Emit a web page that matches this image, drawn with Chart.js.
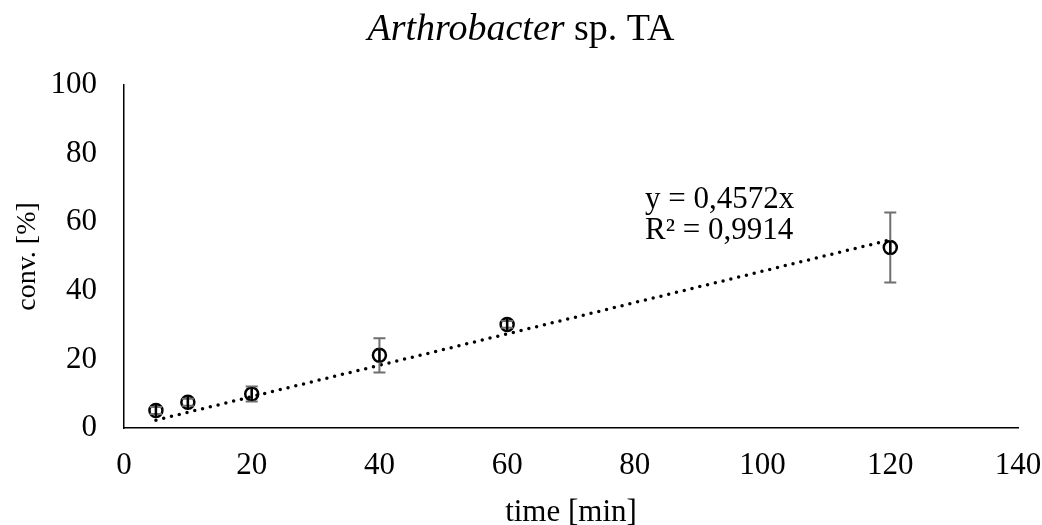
<!DOCTYPE html>
<html>
<head>
<meta charset="utf-8">
<script src="https://cdn.jsdelivr.net/npm/chart.js@4.4.1/dist/chart.umd.min.js"></script>
<style>
  html, body { margin: 0; padding: 0; background: #fff; }
  #wrap { width: 1042px; height: 525px; }
</style>
</head>
<body>
<div id="wrap"><canvas id="chart1"></canvas></div>
<script>
var timeMin = [5, 10, 20, 40, 60, 120];
var conv = [5.1, 7.5, 9.9, 21.2, 30.2, 52.6];
var convErr = [1.0, 1.0, 2.2, 5.0, 1.0, 10.2];
var trendX = [5, 120];
var trendY = [2.29, 54.86];
var xTicks = [0, 20, 40, 60, 80, 100, 120, 140];
var yTicks = [0, 20, 40, 60, 80, 100];

var serif = "'Liberation Serif', 'Times New Roman', serif";

// title with italic genus name + trendline equation
var titlePlugin = {
  id: 'mixedTitle',
  afterDraw: function (chart) {
    var ctx = chart.ctx;
    ctx.save();
    ctx.fillStyle = '#000';
    ctx.textBaseline = 'alphabetic';
    ctx.textAlign = 'left';
    var a = 'Arthrobacter', b = ' sp. TA';
    ctx.font = 'italic 38px ' + serif;
    var wa = ctx.measureText(a).width;
    ctx.font = '38px ' + serif;
    var wb = ctx.measureText(b).width;
    var x0 = chart.width / 2 - (wa + wb) / 2;
    ctx.font = 'italic 38px ' + serif;
    ctx.fillText(a, x0, 40);
    ctx.font = '38px ' + serif;
    ctx.fillText(b, x0 + wa, 40);

    ctx.font = '31px ' + serif;
    ctx.fillText('y = 0,4572x', 645, 208);
    ctx.fillText('R\u00b2 = 0,9914', 645, 239);
    ctx.restore();
  }
};

var errorBars = {
  id: 'errorBars',
  afterDatasetsDraw: function (chart) {
    var ctx = chart.ctx;
    var xs = chart.scales.x, ys = chart.scales.y;
    ctx.save();
    ctx.lineWidth = 2;
    for (var i = 0; i < timeMin.length; i++) {
      var px = xs.getPixelForValue(timeMin[i]);
      var top = ys.getPixelForValue(conv[i] + convErr[i]);
      var bot = ys.getPixelForValue(conv[i] - convErr[i]);
      var mid = ys.getPixelForValue(conv[i]);
      ctx.strokeStyle = '#6f6f6f';
      ctx.beginPath();
      ctx.moveTo(px, top); ctx.lineTo(px, bot);
      ctx.moveTo(px - 6, top); ctx.lineTo(px + 6, top);
      ctx.moveTo(px - 6, bot); ctx.lineTo(px + 6, bot);
      ctx.stroke();
      ctx.strokeStyle = '#000';
      ctx.lineWidth = 2.5;
      ctx.beginPath();
      ctx.moveTo(px, mid - 7); ctx.lineTo(px, mid + 7);
      ctx.stroke();
      ctx.lineWidth = 2;
    }
    ctx.restore();
  }
};

new Chart(document.getElementById('chart1'), {
  type: 'scatter',
  data: {
    datasets: [
      {
        label: 'conv',
        data: timeMin.map(function (t, i) { return { x: t, y: conv[i] }; }),
        pointStyle: 'circle',
        pointRadius: 6.5,
        pointBorderWidth: 2.5,
        pointBorderColor: '#000',
        pointBackgroundColor: 'rgba(0,0,0,0)',
        showLine: false
      },
      {
        label: 'trend',
        data: trendX.map(function (t, i) { return { x: t, y: trendY[i] }; }),
        showLine: true,
        borderColor: '#000',
        borderWidth: 3.5,
        borderDash: [0, 8],
        borderCapStyle: 'round',
        pointRadius: 0,
        order: 1
      }
    ]
  },
  options: {
    responsive: true,
    maintainAspectRatio: false,
    animation: false,
    devicePixelRatio: 1,
    layout: { padding: { top: 85, right: 24, left: 0, bottom: 0 } },
    plugins: {
      legend: { display: false },
      tooltip: { enabled: false },
      title: { display: false }
    },
    scales: {
      x: {
        type: 'linear',
        min: 0,
        max: 140,
        afterBuildTicks: function (s) { s.ticks = xTicks.map(function (v) { return { value: v }; }); },
        afterFit: function (s) { s.height = 97; s.paddingLeft = 0; s.paddingRight = 0; },
        grid: { display: false, drawTicks: false },
        border: { display: true, color: '#000', width: 1.5 },
        ticks: { color: '#000', padding: 19, font: { family: serif, size: 31 }, maxRotation: 0 },
        title: { display: true, text: 'time [min]', color: '#000', font: { family: serif, size: 31 }, padding: { top: 0, bottom: -6 } }
      },
      y: {
        type: 'linear',
        min: 0,
        max: 100,
        afterBuildTicks: function (s) { s.ticks = yTicks.map(function (v) { return { value: v }; }); },
        afterFit: function (s) { s.width = 124; s.paddingTop = 0; s.paddingBottom = 0; },
        grid: { display: false, drawTicks: false },
        border: { display: true, color: '#000', width: 1.5 },
        ticks: { color: '#000', padding: 27, font: { family: serif, size: 31 } },
        title: { display: true, text: 'conv. [%]', color: '#000', font: { family: serif, size: 28 }, padding: { top: 11, bottom: 0 } }
      }
    }
  },
  plugins: [errorBars, titlePlugin]
});
</script>
</body>
</html>
